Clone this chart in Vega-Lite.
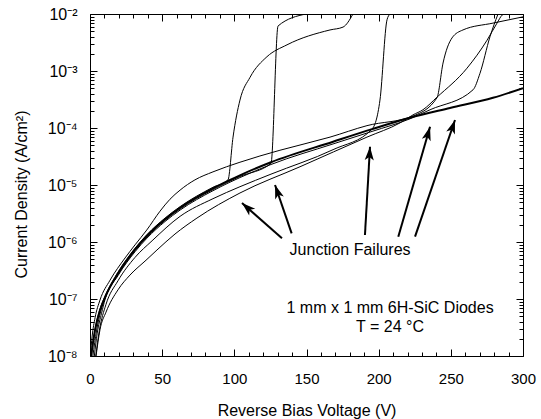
{
  "$schema": "https://vega.github.io/schema/vega-lite/v6.json",
  "width": 433,
  "height": 342,
  "autosize": "none",
  "padding": {"left": 90, "top": 14, "right": 18, "bottom": 63},
  "background": "white",
  "config": {
    "view": {"stroke": null},
    "font": "Liberation Sans",
    "axis": {
      "grid": false,
      "domainColor": "black",
      "domainWidth": 1,
      "tickColor": "black",
      "tickWidth": 1,
      "labelColor": "black",
      "titleColor": "black",
      "labelFont": "Liberation Sans",
      "titleFont": "Liberation Sans",
      "titleFontWeight": "normal",
      "labelOverlap": false,
      "labelFlush": false
    }
  },
  "datasets": {
    "curves": [
      {"curve": "A", "V": 1.0, "J": 1e-8}, {"curve": "A", "V": 3.8, "J": 3.16e-8}, {"curve": "A", "V": 7, "J": 6.76e-8}, {"curve": "A", "V": 10.4, "J": 1.12e-7}, {"curve": "A", "V": 19.4, "J": 2.95e-7}, {"curve": "A", "V": 31.2, "J": 7.76e-7}, {"curve": "A", "V": 39.5, "J": 1.35e-6}, {"curve": "A", "V": 52, "J": 2.63e-6}, {"curve": "A", "V": 62.4, "J": 4.17e-6}, {"curve": "A", "V": 85.2, "J": 9.12e-6}, {"curve": "A", "V": 95.6, "J": 1.23e-5}, {"curve": "A", "V": 99.1, "J": 6.92e-5}, {"curve": "A", "V": 103.9, "J": 3.09e-4}, {"curve": "A", "V": 110.9, "J": 7.76e-4}, {"curve": "A", "V": 122.6, "J": 1.78e-3}, {"curve": "A", "V": 136.5, "J": 2.88e-3}, {"curve": "A", "V": 166.3, "J": 5.25e-3}, {"curve": "A", "V": 175.3, "J": 5.89e-3}, {"curve": "A", "V": 182.2, "J": 1e-2},
      {"curve": "B", "V": 2, "J": 1e-8}, {"curve": "B", "V": 4.5, "J": 2.75e-8}, {"curve": "B", "V": 7.5, "J": 6.17e-8}, {"curve": "B", "V": 10.4, "J": 1.02e-7}, {"curve": "B", "V": 19.4, "J": 2.69e-7}, {"curve": "B", "V": 31.2, "J": 7.08e-7}, {"curve": "B", "V": 39.5, "J": 1.23e-6}, {"curve": "B", "V": 52, "J": 2.40e-6}, {"curve": "B", "V": 62.4, "J": 3.80e-6}, {"curve": "B", "V": 85.2, "J": 8.32e-6}, {"curve": "B", "V": 96.3, "J": 1.15e-5}, {"curve": "B", "V": 103.9, "J": 1.41e-5}, {"curve": "B", "V": 125.4, "J": 2.40e-5}, {"curve": "B", "V": 130.3, "J": 6.17e-3}, {"curve": "B", "V": 149.7, "J": 1e-2},
      {"curve": "C", "V": 4, "J": 1e-8}, {"curve": "C", "V": 6.5, "J": 2.82e-8}, {"curve": "C", "V": 11, "J": 7.94e-8}, {"curve": "C", "V": 19.4, "J": 2.09e-7}, {"curve": "C", "V": 31.2, "J": 5.37e-7}, {"curve": "C", "V": 43, "J": 1.05e-6}, {"curve": "C", "V": 62.4, "J": 2.82e-6}, {"curve": "C", "V": 85.2, "J": 5.75e-6}, {"curve": "C", "V": 103.9, "J": 9.33e-6}, {"curve": "C", "V": 125.4, "J": 1.55e-5}, {"curve": "C", "V": 168.4, "J": 4.17e-5}, {"curve": "C", "V": 195.4, "J": 9.55e-5}, {"curve": "C", "V": 200.9, "J": 3.09e-4}, {"curve": "C", "V": 205.8, "J": 7.94e-3}, {"curve": "C", "V": 207.9, "J": 1e-2},
      {"curve": "D", "V": 0.2, "J": 1e-8}, {"curve": "D", "V": 1.5, "J": 2.24e-8}, {"curve": "D", "V": 3.5, "J": 4.68e-8}, {"curve": "D", "V": 6.9, "J": 9.55e-8}, {"curve": "D", "V": 13.9, "J": 2.14e-7}, {"curve": "D", "V": 24.3, "J": 5.25e-7}, {"curve": "D", "V": 31.2, "J": 8.91e-7}, {"curve": "D", "V": 39.3, "J": 1.62e-6}, {"curve": "D", "V": 48.5, "J": 3.47e-6}, {"curve": "D", "V": 55.4, "J": 5.62e-6}, {"curve": "D", "V": 62.4, "J": 8.13e-6}, {"curve": "D", "V": 72.7, "J": 1.23e-5}, {"curve": "D", "V": 85.2, "J": 1.70e-5}, {"curve": "D", "V": 103.9, "J": 2.51e-5}, {"curve": "D", "V": 131.6, "J": 4.07e-5}, {"curve": "D", "V": 166.3, "J": 6.92e-5}, {"curve": "D", "V": 191.9, "J": 1.10e-4}, {"curve": "D", "V": 223.8, "J": 1.62e-4}, {"curve": "D", "V": 240.4, "J": 3.39e-4}, {"curve": "D", "V": 244.6, "J": 1.38e-3}, {"curve": "D", "V": 250.8, "J": 3.80e-3}, {"curve": "D", "V": 258.4, "J": 5.25e-3}, {"curve": "D", "V": 279.2, "J": 6.92e-3}, {"curve": "D", "V": 300, "J": 8.91e-3},
      {"curve": "E", "V": 4.2, "J": 1e-8}, {"curve": "E", "V": 6.9, "J": 2.88e-8}, {"curve": "E", "V": 11.1, "J": 5.89e-8}, {"curve": "E", "V": 19.4, "J": 1.45e-7}, {"curve": "E", "V": 27.7, "J": 2.63e-7}, {"curve": "E", "V": 38.8, "J": 4.79e-7}, {"curve": "E", "V": 46.4, "J": 7.24e-7}, {"curve": "E", "V": 58.9, "J": 1.38e-6}, {"curve": "E", "V": 74.1, "J": 2.63e-6}, {"curve": "E", "V": 103.9, "J": 7.24e-6}, {"curve": "E", "V": 145.5, "J": 2.09e-5}, {"curve": "E", "V": 191.9, "J": 6.92e-5}, {"curve": "E", "V": 214.8, "J": 1.23e-4}, {"curve": "E", "V": 223.8, "J": 1.70e-4}, {"curve": "E", "V": 230.7, "J": 2.09e-4}, {"curve": "E", "V": 240.4, "J": 3.47e-4}, {"curve": "E", "V": 261.2, "J": 1.12e-3}, {"curve": "E", "V": 275.1, "J": 3.47e-3}, {"curve": "E", "V": 282, "J": 6.92e-3}, {"curve": "E", "V": 285.5, "J": 9.55e-3}, {"curve": "E", "V": 286.5, "J": 1e-2},
      {"curve": "F", "V": 3, "J": 1e-8}, {"curve": "F", "V": 5, "J": 2.51e-8}, {"curve": "F", "V": 8, "J": 5.62e-8}, {"curve": "F", "V": 10.4, "J": 9.77e-8}, {"curve": "F", "V": 19.4, "J": 2.57e-7}, {"curve": "F", "V": 31.2, "J": 6.76e-7}, {"curve": "F", "V": 39.5, "J": 1.17e-6}, {"curve": "F", "V": 52, "J": 2.29e-6}, {"curve": "F", "V": 62.4, "J": 3.63e-6}, {"curve": "F", "V": 85.2, "J": 7.94e-6}, {"curve": "F", "V": 96.3, "J": 1.10e-5}, {"curve": "F", "V": 103.9, "J": 1.35e-5}, {"curve": "F", "V": 125.4, "J": 2.29e-5}, {"curve": "F", "V": 168.4, "J": 5.25e-5}, {"curve": "F", "V": 195.4, "J": 8.71e-5}, {"curve": "F", "V": 221.7, "J": 1.45e-4}, {"curve": "F", "V": 235.6, "J": 2.09e-4}, {"curve": "F", "V": 265.4, "J": 4.68e-4}, {"curve": "F", "V": 270.2, "J": 9.12e-4}, {"curve": "F", "V": 277.1, "J": 3.98e-3}, {"curve": "F", "V": 282.7, "J": 1e-2},
      {"curve": "G", "V": 0.7, "J": 1e-8}, {"curve": "G", "V": 3.5, "J": 2.88e-8}, {"curve": "G", "V": 6.9, "J": 6.31e-8}, {"curve": "G", "V": 10.4, "J": 1.07e-7}, {"curve": "G", "V": 19.4, "J": 2.82e-7}, {"curve": "G", "V": 31.2, "J": 7.41e-7}, {"curve": "G", "V": 39.5, "J": 1.29e-6}, {"curve": "G", "V": 52, "J": 2.51e-6}, {"curve": "G", "V": 62.4, "J": 3.98e-6}, {"curve": "G", "V": 85.2, "J": 8.71e-6}, {"curve": "G", "V": 96.3, "J": 1.20e-5}, {"curve": "G", "V": 103.9, "J": 1.48e-5}, {"curve": "G", "V": 125.4, "J": 2.51e-5}, {"curve": "G", "V": 168.4, "J": 5.75e-5}, {"curve": "G", "V": 195.4, "J": 9.55e-5}, {"curve": "G", "V": 221.7, "J": 1.51e-4}, {"curve": "G", "V": 249.4, "J": 2.24e-4}, {"curve": "G", "V": 279.2, "J": 3.39e-4}, {"curve": "G", "V": 300, "J": 5.01e-4}
    ],
    "arrows": [
      {"V0": 133.0, "J0": 1.16e-6, "V1": 105.3, "J1": 4.83e-6, "heading": 311.6},
      {"V0": 139.7, "J0": 1.42e-6, "V1": 128.2, "J1": 1.0e-5, "heading": 340.9},
      {"V0": 190.5, "J0": 1.33e-6, "V1": 194.0, "J1": 4.70e-5, "heading": 3.2},
      {"V0": 213.6, "J0": 1.24e-6, "V1": 235.6, "J1": 1.05e-4, "heading": 16.1},
      {"V0": 225.2, "J0": 1.24e-6, "V1": 252.9, "J1": 1.38e-4, "heading": 18.9}
    ],
    "notes": [
      {"V": 180.2, "J": 7.24e-7, "text": "Junction Failures"},
      {"V": 207.9, "J": 6.95e-8, "text": "1 mm x 1 mm 6H-SiC Diodes"},
      {"V": 207.9, "J": 3.27e-8, "text": "T = 24 °C"}
    ]
  },
  "resolve": {"scale": {"x": "shared", "y": "shared"}, "axis": {"x": "independent", "y": "independent"}},
  "layer": [
    {
      "data": {"name": "curves"},
      "transform": [{"filter": "datum.curve !== 'G'"}],
      "mark": {"type": "line", "color": "black", "strokeWidth": 1, "clip": true, "interpolate": "monotone"},
      "encoding": {
        "x": {"field": "V", "type": "quantitative", "scale": {"domain": [0, 300], "nice": false},
          "axis": {"orient": "bottom", "values": [0,10,20,30,40,50,60,70,80,90,100,110,120,130,140,150,160,170,180,190,200,210,220,230,240,250,260,270,280,290,300],
            "labelExpr": "datum.value % 50 === 0 ? datum.label : ''",
            "tickSize": {"condition": {"test": "datum.value % 50 === 0", "value": -7}, "value": -4},
            "labelPadding": 22, "labelFontSize": 15,
            "title": "Reverse Bias Voltage (V)", "titleFontSize": 16, "titleY": 54, "titleBaseline": "middle"}},
        "y": {"field": "J", "type": "quantitative", "scale": {"type": "log", "domain": [1e-8, 1e-2], "nice": false},
          "axis": {"orient": "left", "values": [1e-8,2e-8,3e-8,4e-8,5e-8,6e-8,7e-8,8e-8,9e-8,1e-7,2e-7,3e-7,4e-7,5e-7,6e-7,7e-7,8e-7,9e-7,1e-6,2e-6,3e-6,4e-6,5e-6,6e-6,7e-6,8e-6,9e-6,1e-5,2e-5,3e-5,4e-5,5e-5,6e-5,7e-5,8e-5,9e-5,1e-4,2e-4,3e-4,4e-4,5e-4,6e-4,7e-4,8e-4,9e-4,1e-3,2e-3,3e-3,4e-3,5e-3,6e-3,7e-3,8e-3,9e-3,1e-2],
            "labelExpr": "abs(log(datum.value)/LN10 - round(log(datum.value)/LN10)) < 0.000001 ? '10' + ['⁰','⁻¹','⁻²','⁻³','⁻⁴','⁻⁵','⁻⁶','⁻⁷','⁻⁸'][-round(log(datum.value)/LN10)] : ''",
            "tickSize": {"condition": {"test": "abs(log(datum.value)/LN10 - round(log(datum.value)/LN10)) < 0.000001", "value": -7}, "value": -4},
            "labelPadding": 20, "labelFontSize": 16,
            "title": "Current Density (A/cm²)", "titleFontSize": 16, "titleAngle": -90, "titleX": -69, "titleY": 180, "titleAlign": "center", "titleBaseline": "middle"}},
        "detail": {"field": "curve", "type": "nominal"}
      }
    },
    {
      "data": {"name": "curves"},
      "transform": [{"filter": "datum.curve === 'G'"}],
      "mark": {"type": "line", "color": "black", "strokeWidth": 2, "clip": true, "interpolate": "monotone"},
      "encoding": {
        "x": {"field": "V", "type": "quantitative", "scale": {"domain": [0, 300], "nice": false},
          "axis": {"orient": "top", "values": [0,10,20,30,40,50,60,70,80,90,100,110,120,130,140,150,160,170,180,190,200,210,220,230,240,250,260,270,280,290,300],
            "labels": false, "title": null,
            "tickSize": {"condition": {"test": "datum.value % 50 === 0", "value": -7}, "value": -4}}},
        "y": {"field": "J", "type": "quantitative", "scale": {"type": "log", "domain": [1e-8, 1e-2], "nice": false},
          "axis": {"orient": "right", "values": [1e-8,2e-8,3e-8,4e-8,5e-8,6e-8,7e-8,8e-8,9e-8,1e-7,2e-7,3e-7,4e-7,5e-7,6e-7,7e-7,8e-7,9e-7,1e-6,2e-6,3e-6,4e-6,5e-6,6e-6,7e-6,8e-6,9e-6,1e-5,2e-5,3e-5,4e-5,5e-5,6e-5,7e-5,8e-5,9e-5,1e-4,2e-4,3e-4,4e-4,5e-4,6e-4,7e-4,8e-4,9e-4,1e-3,2e-3,3e-3,4e-3,5e-3,6e-3,7e-3,8e-3,9e-3,1e-2],
            "labels": false, "title": null,
            "tickSize": {"condition": {"test": "abs(log(datum.value)/LN10 - round(log(datum.value)/LN10)) < 0.000001", "value": -7}, "value": -4}}}
      }
    },
    {
      "data": {"name": "arrows"},
      "mark": {"type": "rule", "color": "black", "strokeWidth": 2},
      "encoding": {
        "x": {"field": "V0", "type": "quantitative", "scale": {"domain": [0, 300], "nice": false}, "axis": null},
        "y": {"field": "J0", "type": "quantitative", "scale": {"type": "log", "domain": [1e-8, 1e-2], "nice": false}, "axis": null},
        "x2": {"field": "V1"},
        "y2": {"field": "J1"}
      }
    },
    {
      "data": {"name": "arrows"},
      "mark": {"type": "point", "shape": "M0,0 L0.8,2.4 L0,1.8 L-0.8,2.4 Z", "filled": true, "color": "black", "opacity": 1, "size": 130, "strokeWidth": 0},
      "encoding": {
        "x": {"field": "V1", "type": "quantitative", "scale": {"domain": [0, 300], "nice": false}, "axis": null},
        "y": {"field": "J1", "type": "quantitative", "scale": {"type": "log", "domain": [1e-8, 1e-2], "nice": false}, "axis": null},
        "angle": {"field": "heading", "type": "quantitative", "scale": null}
      }
    },
    {
      "data": {"name": "notes"},
      "mark": {"type": "text", "font": "Liberation Sans", "fontSize": 16, "color": "black", "align": "center", "baseline": "middle"},
      "encoding": {
        "x": {"field": "V", "type": "quantitative", "scale": {"domain": [0, 300], "nice": false}, "axis": null},
        "y": {"field": "J", "type": "quantitative", "scale": {"type": "log", "domain": [1e-8, 1e-2], "nice": false}, "axis": null},
        "text": {"field": "text", "type": "nominal"}
      }
    }
  ]
}
